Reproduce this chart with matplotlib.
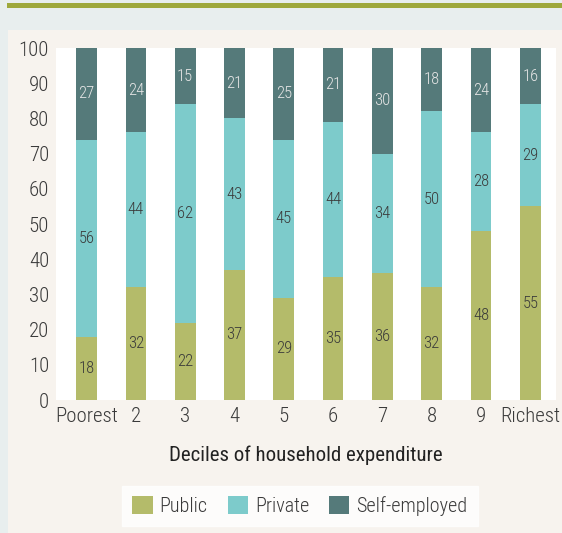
import matplotlib
matplotlib.use("Agg")
import matplotlib.pyplot as plt
from matplotlib.patches import Rectangle
import numpy as np

# --------- data ---------
deciles = ["Poorest", "2", "3", "4", "5", "6", "7", "8", "9", "Richest"]
public = [18, 32, 22, 37, 29, 35, 36, 32, 48, 55]
private = [56, 44, 62, 43, 45, 44, 34, 50, 28, 29]
self_employed = [27, 24, 15, 21, 25, 21, 30, 18, 24, 16]
yticks = [0, 10, 20, 30, 40, 50, 60, 70, 80, 90, 100]

# --------- style ---------
plt.rcParams['font.family'] = ['Roboto Condensed', 'DejaVu Sans']
TXT = '#3a3a3a'
C_PUB, C_PRIV, C_SELF = '#b4bb6a', '#7dcbcb', '#557a7a'
W, H = 562, 533

fig = plt.figure(figsize=(W / 100, H / 100), dpi=100)
fig.patch.set_facecolor('#e8eeee')

# page decoration: beige panel and green rule
fig.patches.append(Rectangle((8 / W, 0), 1 - 8 / W, 1 - 30 / H, transform=fig.transFigure,
                             facecolor='#f7f3ee', edgecolor='none', zorder=-5))
fig.patches.append(Rectangle((7 / W, 1 - 8 / H), 1 - 7 / W, 5 / H, transform=fig.transFigure,
                             facecolor='#9ea83c', edgecolor='none', zorder=-5))

ax = fig.add_axes([56 / W, (H - 400) / H, 500 / W, 352 / H])
ax.set_zorder(2)
ax.set_facecolor('white')

x = np.arange(len(deciles))
bw = 0.42
pub = np.array(public)
priv = np.array(private)

ax.bar(x, pub, bw, color=C_PUB, label='Public')
ax.bar(x, priv, bw, bottom=pub, color=C_PRIV, label='Private')
top_bottom = pub + priv
ax.bar(x, 100 - top_bottom, bw, bottom=top_bottom, color=C_SELF, label='Self-employed')

# segment labels
for i in range(len(x)):
    ax.text(x[i], pub[i] / 2, str(public[i]), ha='center', va='center', fontsize=12,
            color=TXT, weight='light')
    ax.text(x[i], pub[i] + priv[i] / 2, str(private[i]), ha='center', va='center', fontsize=12,
            color=TXT, weight='light')
    ax.text(x[i], (top_bottom[i] + 100) / 2, str(self_employed[i]), ha='center', va='center',
            fontsize=12, color='#e6e6e6', weight='light')

ax.set_xlim(-0.62, 9.52)
ax.set_ylim(0, 100)
ax.set_yticks(yticks)
ax.set_xticks(x)
ax.set_xticklabels(deciles)
ax.tick_params(length=0, labelsize=15, colors=TXT, pad=5)
for lbl in ax.get_xticklabels() + ax.get_yticklabels():
    lbl.set_fontweight('light')
for s in ax.spines.values():
    s.set_visible(False)

ax.set_xlabel('Deciles of household expenditure', fontsize=15, color='#222222', labelpad=14)

leg = fig.legend(loc='center', bbox_to_anchor=(300 / W, 1 - 506 / H), ncol=3, frameon=True,
                 handlelength=1.0, handleheight=1.0, handletextpad=0.35,
                 columnspacing=1.0, fancybox=False, borderpad=0.5, borderaxespad=0,
                 prop={'weight': 'light', 'size': 14.5})
leg.get_frame().set_facecolor('white')
leg.get_frame().set_edgecolor('white')
for t in leg.get_texts():
    t.set_color(TXT)

fig.savefig('out.png', dpi=100, facecolor=fig.get_facecolor())
